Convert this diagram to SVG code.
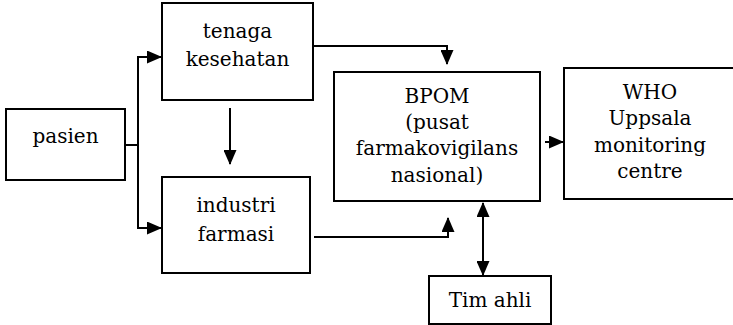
<svg xmlns="http://www.w3.org/2000/svg" width="733" height="325" viewBox="0 0 733 325">
<style>
.box{fill:#fff;stroke:#000;stroke-width:2}
.t{font-family:"DejaVu Serif","Liberation Serif",serif;font-size:20px;fill:#000;text-anchor:middle}
.c{fill:none;stroke:#000;stroke-width:2}
</style>
<defs>
<marker id="ah" markerUnits="userSpaceOnUse" markerWidth="15" markerHeight="13" refX="14" refY="6.5" orient="auto-start-reverse" viewBox="0 0 15 13">
<path d="M0,0 L15,6.5 L0,13 z" fill="#000"/>
</marker>
</defs>
<rect width="733" height="325" fill="#fff"/>
<g id="connectors">
<path class="c" d="M125,145 H138 V57 H161" marker-end="url(#ah)"/>
<path class="c" d="M138,145 V228 H161" marker-end="url(#ah)"/>
<path class="c" d="M230,108 V164" marker-end="url(#ah)"/>
<path class="c" d="M313,46 H447 V64" marker-end="url(#ah)"/>
<path class="c" d="M314,237 H448 V218" marker-end="url(#ah)"/>
<path class="c" d="M545,142 H563" marker-end="url(#ah)"/>
<path class="c" d="M483,203 V275" marker-start="url(#ah)" marker-end="url(#ah)"/>
</g>
<g id="pasien">
<rect class="box" x="6" y="109" width="119" height="71"/>
<text class="t" x="65.5" y="143">pasien</text>
</g>
<g id="tenaga">
<rect class="box" x="162" y="3" width="151" height="97"/>
<text class="t" x="237.5" y="38">tenaga</text>
<text class="t" x="237.5" y="66">kesehatan</text>
</g>
<g id="industri">
<rect class="box" x="162" y="177" width="148" height="96"/>
<text class="t" x="236" y="212">industri</text>
<text class="t" x="236" y="241">farmasi</text>
</g>
<g id="bpom">
<rect class="box" x="334" y="72" width="206" height="129"/>
<text class="t" x="437" y="103">BPOM</text>
<text class="t" x="437" y="129">(pusat</text>
<text class="t" x="437" y="155">farmakovigilans</text>
<text class="t" x="437" y="182">nasional)</text>
</g>
<g id="who">
<rect class="box" x="564" y="68" width="172" height="131"/>
<text class="t" x="650" y="99">WHO</text>
<text class="t" x="650" y="125">Uppsala</text>
<text class="t" x="650" y="152">monitoring</text>
<text class="t" x="650" y="178">centre</text>
</g>
<g id="timahli">
<rect class="box" x="429" y="276" width="122" height="48"/>
<text class="t" x="490" y="307">Tim ahli</text>
</g>
</svg>
